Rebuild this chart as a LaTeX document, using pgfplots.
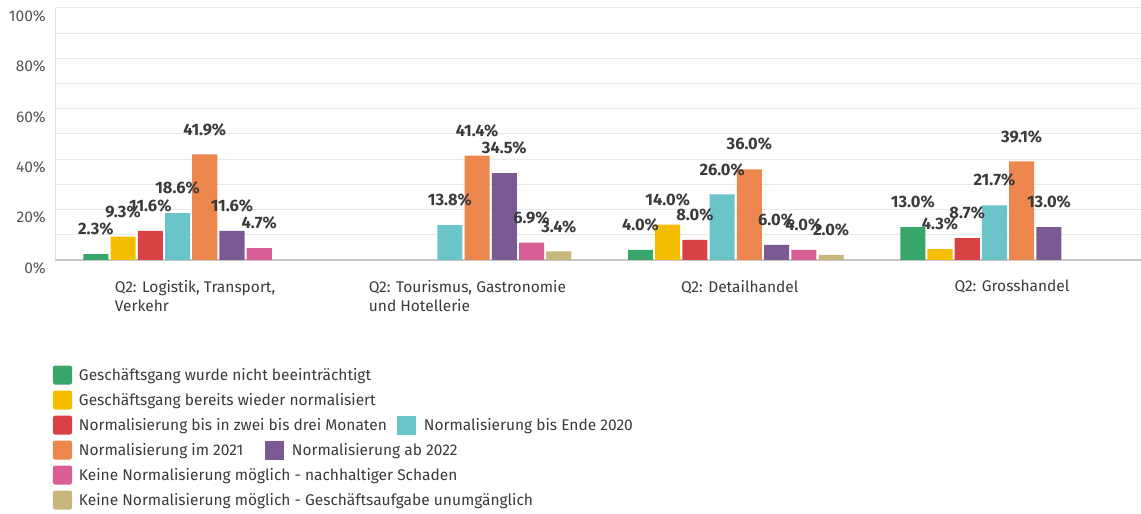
\documentclass[border=0pt]{standalone}
\usepackage{pgfplots}
\pgfplotsset{compat=1.18}
\usepackage{fontspec}
\setmainfont{Fira Sans}
\definecolor{cA}{HTML}{38A569}
\definecolor{cB}{HTML}{F5BE00}
\definecolor{cC}{HTML}{D84244}
\definecolor{cD}{HTML}{6CC4CB}
\definecolor{cE}{HTML}{EE874E}
\definecolor{cF}{HTML}{7B5A93}
\definecolor{cG}{HTML}{DA5E96}
\definecolor{cH}{HTML}{C8B67D}
\definecolor{txt}{HTML}{3A3A3A}
\definecolor{ytxt}{HTML}{555555}
\definecolor{lbl}{HTML}{3A3A3A}
\pgfplotsset{sq/.style={legend image code/.code={\fill[#1,rounded corners=2pt] (0pt,-9.5pt) rectangle (19pt,9.5pt);}}}
\newcommand{\isq}[1]{\textcolor{#1}{\rule[-4.5pt]{19pt}{19pt}}}
\begin{document}
\begin{tikzpicture}[x=1pt,y=1pt]
\useasboundingbox (0,0) rectangle (1141,514);
\begin{axis}[
  at={(55pt,254pt)}, anchor=south west,
  scale only axis, width=1086pt, height=252pt,
  xmin=-0.5, xmax=3.488, ymin=0, ymax=100,
  ybar, bar width=0.092,
  axis x line*=bottom, axis y line*=left,
  x axis line style={draw=black!22, line width=1.5pt},
  y axis line style={draw=black!12, line width=1pt},
  major tick length=0pt, minor tick length=0pt,
  xtick={0,1,2,3},
  xticklabels={{Q2: Logistik, Transport,\\Verkehr},{Q2: Tourismus, Gastronomie\\und Hotellerie},{Q2: Detailhandel},{Q2: Grosshandel}},
  xticklabel style={align=left, anchor=north, inner sep=0pt, yshift=-20pt, xshift=4pt, font=\fontsize{15.5}{19}\selectfont, text=txt},
  ytick={0,20,...,100}, minor ytick={10,30,...,90},
  yticklabel={\pgfmathprintnumber{\tick}\%},
  yticklabel style={anchor=east, inner sep=0pt, xshift=-9pt, yshift=-8pt, font=\fontsize{15.5}{17}\selectfont, text=ytxt},
  /pgf/number format/assume math mode=true,
  ymajorgrids, yminorgrids,
  major grid style={draw=black!9, line width=1pt},
  minor grid style={draw=black!9, line width=1pt},
  nodes near coords={\pgfmathprintnumber[fixed,fixed zerofill,precision=1]{\pgfplotspointmeta}\%},
  every node near coord/.append style={anchor=center, yshift=25pt, font=\fontsize{16.5}{19}\selectfont\bfseries, text=lbl, inner sep=0pt},
  legend style={at={(axis description cs:0,0)}, anchor=north west, xshift=-2pt, yshift=-105.5pt, draw=none, fill=none, inner sep=0pt, outer sep=0pt, row sep=6pt, column sep=7pt, font=\fontsize{15.5}{18}\selectfont, text=txt, nodes={inner sep=0pt, text height=14.5pt, text depth=4.5pt}},
  legend cell align=left,
]
\addplot[fill=cA, draw=none, bar shift=-0.35, sq=cA] coordinates {(0,2.3) (2,4.0) (3,13.0)};
\addlegendentry{Geschäftsgang wurde nicht beeinträchtigt}
\addplot[fill=cB, draw=none, bar shift=-0.25, sq=cB] coordinates {(0,9.3) (2,14.0) (3,4.3)};
\addlegendentry{Geschäftsgang bereits wieder normalisiert}
\addplot[fill=cC, draw=none, bar shift=-0.15, sq=cC] coordinates {(0,11.6) (2,8.0) (3,8.7)};
\addlegendentry{\makebox[318pt][l]{Normalisierung bis in zwei bis drei Monaten}\isq{cD}\hspace{8pt}Normalisierung bis Ende 2020}
\addplot[fill=cD, draw=none, bar shift=-0.05, forget plot] coordinates {(0,18.6) (1,13.8) (2,26.0) (3,21.7)};
\addplot[fill=cE, draw=none, bar shift=0.05, sq=cE] coordinates {(0,41.9) (1,41.4) (2,36.0) (3,39.1)};
\addlegendentry{\makebox[186pt][l]{Normalisierung im 2021}\isq{cF}\hspace{8pt}Normalisierung ab 2022}
\addplot[fill=cF, draw=none, bar shift=0.15, forget plot] coordinates {(0,11.6) (1,34.5) (2,6.0) (3,13.0)};
\addplot[fill=cG, draw=none, bar shift=0.25, sq=cG] coordinates {(0,4.7) (1,6.9) (2,4.0)};
\addlegendentry{Keine Normalisierung möglich - nachhaltiger Schaden}
\addplot[fill=cH, draw=none, bar shift=0.35, sq=cH] coordinates {(1,3.4) (2,2.0)};
\addlegendentry{Keine Normalisierung möglich - Geschäftsaufgabe unumgänglich}
\end{axis}
\end{tikzpicture}
\end{document}
